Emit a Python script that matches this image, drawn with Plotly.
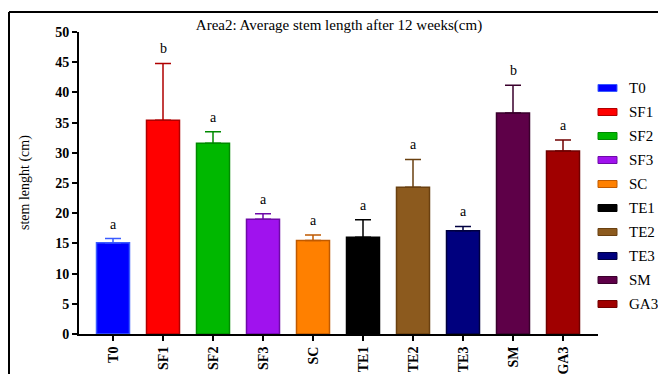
import plotly.graph_objects as go

# Treatments, mean stem length and upper error (cm), significance letters
groups = ["T0", "SF1", "SF2", "SF3", "SC", "TE1", "TE2", "TE3", "SM", "GA3"]
means = [15.1, 35.4, 31.6, 19.0, 15.5, 16.0, 24.3, 17.1, 36.6, 30.3]
errors = [0.7, 9.4, 1.9, 0.9, 0.9, 2.9, 4.6, 0.7, 4.6, 1.8]
letters = ["a", "b", "a", "a", "a", "a", "a", "a", "b", "a"]
colors = ["#0000FF", "#FF0000", "#00B800", "#A012EE", "#FF8000",
          "#000000", "#8C5A1E", "#00007E", "#5E0048", "#A00000"]
edges = ["#3A5BFF", "#B00000", "#008A00", "#6E0AA8", "#C05A00",
         "#000000", "#6A4010", "#000040", "#3A002C", "#700000"]

FONT = "Liberation Serif"

# plot area in pixels
PL, PR, PT, PB = 79, 598, 32, 334


def px_x(x):
    return (x - PL) / (PR - PL)


def px_y(y):
    return (PB - y) / (PB - PT)


fig = go.Figure()
for g, m, e, c, ec in zip(groups, means, errors, colors, edges):
    fig.add_trace(go.Bar(
        x=[g], y=[m], name=g, width=0.66,
        marker=dict(color=c, line=dict(color=ec, width=1.5)),
        error_y=dict(type="data", array=[e], arrayminus=[0], symmetric=False,
                     color=ec, thickness=1.5, width=8),
        showlegend=False,
    ))

# significance letters above each error bar
for g, m, e, t in zip(groups, means, errors, letters):
    fig.add_annotation(x=g, y=m + e, text=t, showarrow=False, yanchor="bottom",
                       yshift=5, font=dict(family=FONT, size=14, color="black"))

# legend: colour swatch and label per treatment
leg_top = 88
leg_step = 24
for i, (g, c, ec) in enumerate(zip(groups, colors, edges)):
    yc = leg_top + i * leg_step
    fig.add_shape(type="rect", xref="paper", yref="paper",
                  x0=px_x(598), x1=px_x(617),
                  y0=px_y(yc + 3.5), y1=px_y(yc - 3.5),
                  fillcolor=c, line=dict(color=ec, width=1))
    fig.add_annotation(xref="paper", yref="paper", x=px_x(627), y=px_y(yc),
                       text=g, showarrow=False, xanchor="left", yanchor="middle",
                       font=dict(family=FONT, size=15, color="black"))

# y-axis title
fig.add_annotation(xref="paper", yref="paper", x=px_x(25), y=px_y(183),
                   text="stem lenght (cm)", textangle=-90, showarrow=False,
                   xanchor="center", yanchor="middle",
                   font=dict(family=FONT, size=14, color="black"))

# frame lines along the top and left edges of the figure
fig.add_shape(type="line", xref="paper", yref="paper",
              x0=px_x(9), x1=px_x(660), y0=px_y(12), y1=px_y(12),
              line=dict(color="black", width=2))
fig.add_shape(type="line", xref="paper", yref="paper",
              x0=px_x(9), x1=px_x(9), y0=px_y(12), y1=px_y(380),
              line=dict(color="black", width=2))

fig.update_layout(
    width=658, height=374,
    margin=dict(l=PL, r=658 - PR, t=PT, b=374 - PB, autoexpand=False),
    paper_bgcolor="white", plot_bgcolor="white",
    title=dict(text="Area2: Average stem length after 12 weeks(cm)",
               x=339 / 658, xanchor="center", y=1 - 25 / 374, yanchor="middle",
               font=dict(family=FONT, size=15, color="black")),
    font=dict(family=FONT, color="black"),
)
fig.update_xaxes(
    type="category", range=[-0.68, 9.7], automargin=False,
    showline=True, linecolor="black", linewidth=2,
    ticks="outside", ticklen=5, tickwidth=2, tickcolor="black",
    tickangle=-90, tickfont=dict(family=FONT, size=14, color="black", weight="bold"),
    showgrid=False, zeroline=False,
)
fig.update_yaxes(
    range=[0, 50], tickvals=[0, 5, 10, 15, 20, 25, 30, 35, 40, 45, 50],
    automargin=False,
    showline=True, linecolor="black", linewidth=2,
    ticks="outside", ticklen=5, tickwidth=2, tickcolor="black",
    tickfont=dict(family=FONT, size=14, color="black", weight="bold"),
    showgrid=False, zeroline=False,
)

fig.write_html("out.html")
